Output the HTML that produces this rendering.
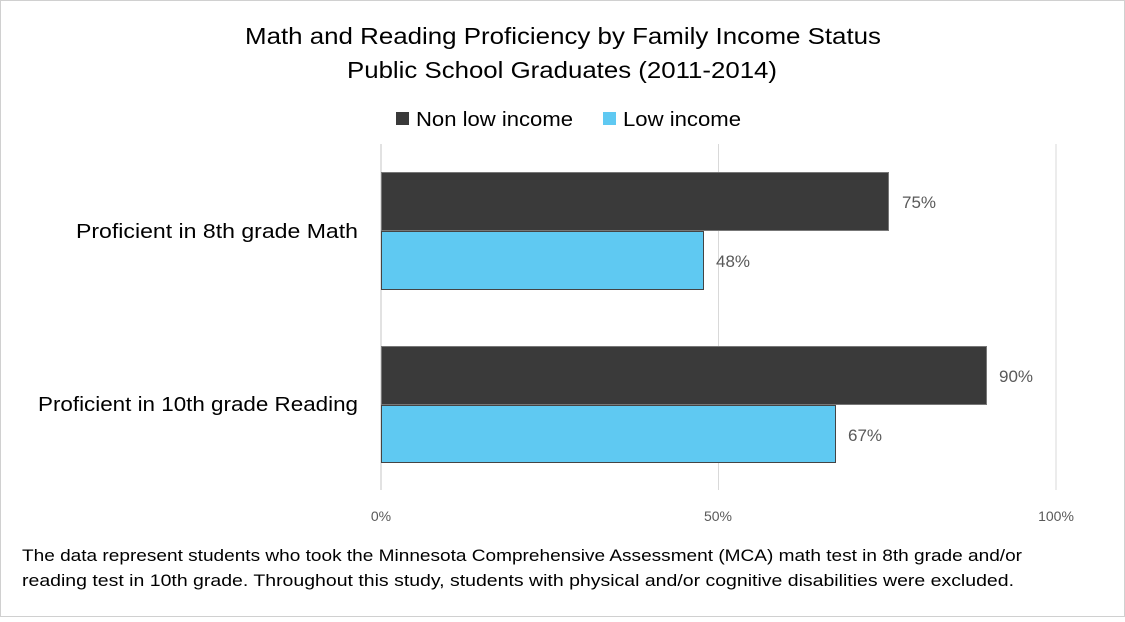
<!DOCTYPE html>
<html><head><style>
body{margin:0;width:1125px;height:617px;background:#fff;overflow:hidden;font-family:"Liberation Sans",sans-serif;}
</style></head><body>
<svg width="1125" height="617" xmlns="http://www.w3.org/2000/svg">
<rect x="0.5" y="0.5" width="1124" height="616" fill="#fff" stroke="#d0d0d0"/>
<text x="245" y="44" font-size="23" textLength="636" lengthAdjust="spacingAndGlyphs" fill="#000">Math and Reading Proficiency by Family Income Status</text>
<text x="347" y="78" font-size="23" textLength="430" lengthAdjust="spacingAndGlyphs" fill="#000">Public School Graduates (2011-2014)</text>
<rect x="396" y="112" width="13" height="13" fill="#3a3a3a"/>
<text x="416" y="126" font-size="20" textLength="157" lengthAdjust="spacingAndGlyphs" fill="#000">Non low income</text>
<rect x="603" y="112" width="13" height="13" fill="#5fc9f2"/>
<text x="623" y="126" font-size="20" textLength="118" lengthAdjust="spacingAndGlyphs" fill="#000">Low income</text>
<line x1="381" y1="144" x2="381" y2="490" stroke="#d9d9d9" stroke-width="1.5"/>
<line x1="718.5" y1="144" x2="718.5" y2="490" stroke="#d9d9d9" stroke-width="1"/>
<line x1="1056" y1="144" x2="1056" y2="490" stroke="#d9d9d9" stroke-width="1"/>
<rect x="381.5" y="172.5" width="507" height="58" fill="#3a3a3a" stroke="#777"/>
<rect x="381.5" y="231.5" width="322" height="58" fill="#5fc9f2" stroke="#444"/>
<rect x="381.5" y="346.5" width="605" height="58" fill="#3a3a3a" stroke="#777"/>
<rect x="381.5" y="405.5" width="454" height="57" fill="#5fc9f2" stroke="#444"/>
<g font-size="17" fill="#595959">
<text x="902" y="208">75%</text>
<text x="716" y="267">48%</text>
<text x="999" y="382">90%</text>
<text x="848" y="441">67%</text>
</g>
<g font-size="20" fill="#000">
<text x="76" y="238" textLength="282" lengthAdjust="spacingAndGlyphs">Proficient in 8th grade Math</text>
<text x="38" y="411" textLength="320" lengthAdjust="spacingAndGlyphs">Proficient in 10th grade Reading</text>
</g>
<g font-size="14" fill="#595959" text-anchor="middle">
<text x="381" y="521">0%</text>
<text x="718" y="521">50%</text>
<text x="1056" y="521">100%</text>
</g>
<g font-size="17" fill="#000">
<text x="22" y="561" textLength="1000" lengthAdjust="spacingAndGlyphs">The data represent students who took the Minnesota Comprehensive Assessment (MCA) math test in 8th grade and/or</text>
<text x="22" y="586" textLength="992" lengthAdjust="spacingAndGlyphs">reading test in 10th grade. Throughout this study, students with physical and/or cognitive disabilities were excluded.</text>
</g>
</svg>
</body></html>
